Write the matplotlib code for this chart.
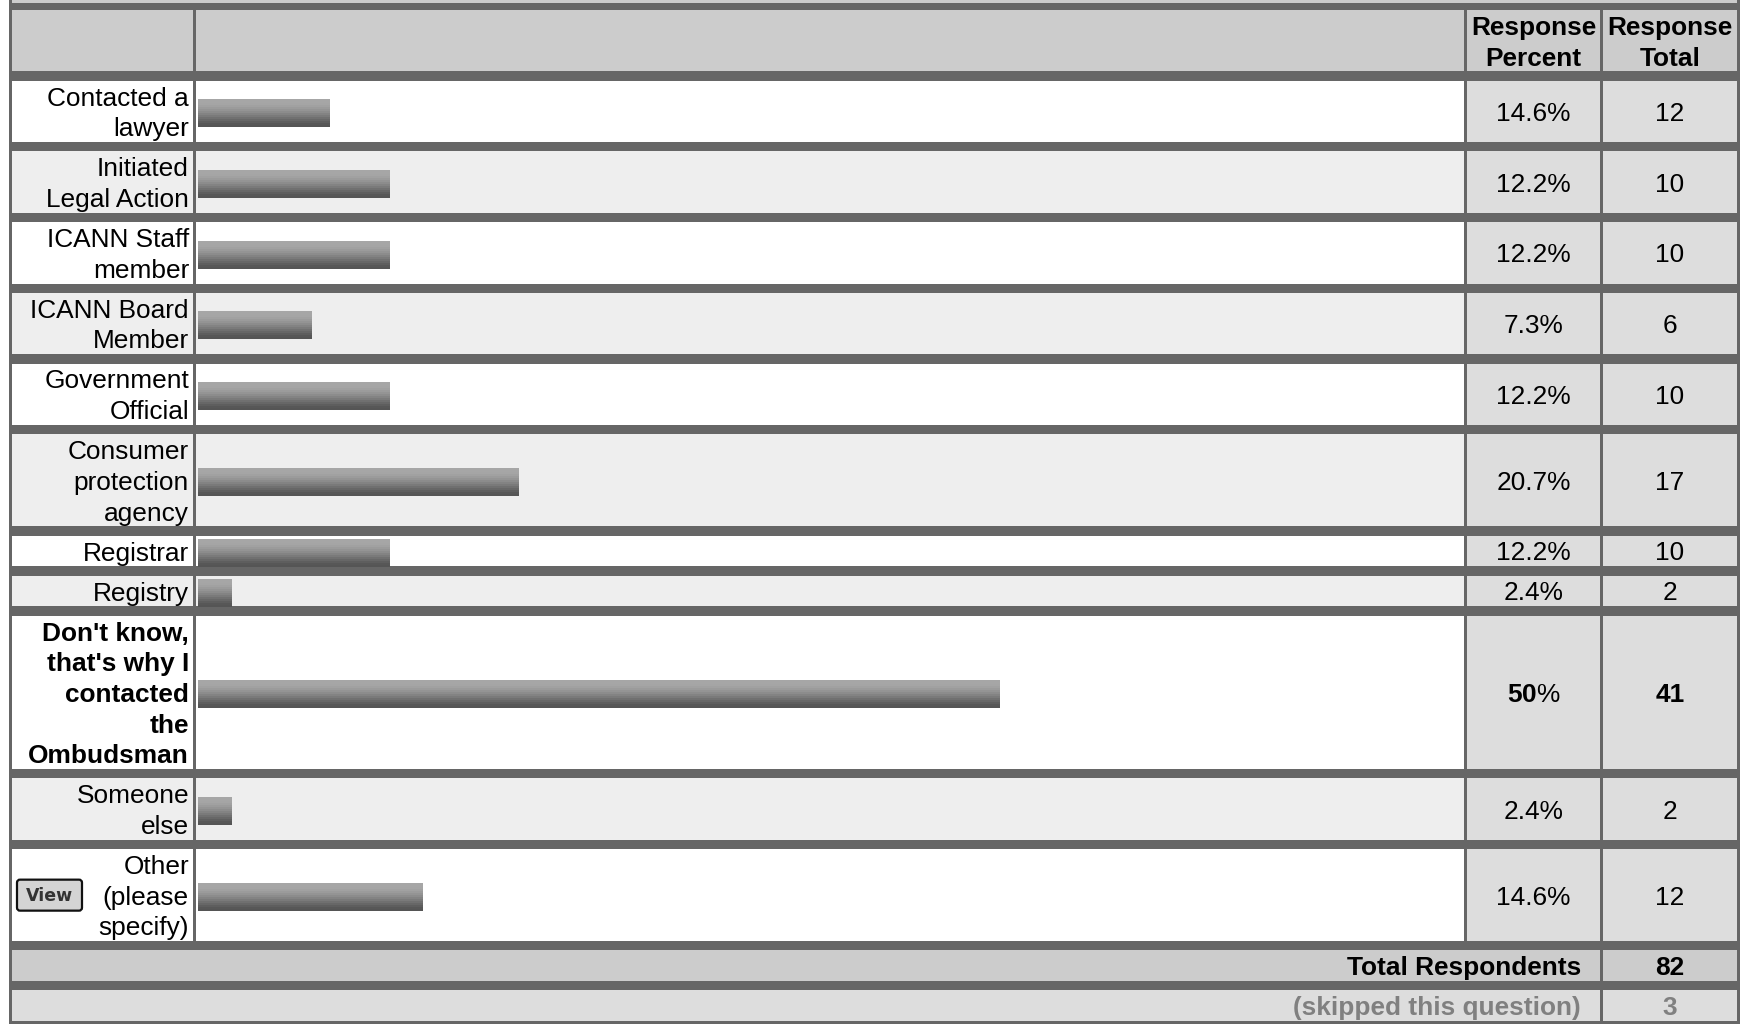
import matplotlib
matplotlib.use("Agg")
import matplotlib.pyplot as plt
from matplotlib.patches import Rectangle, FancyBboxPatch

plt.rcParams['font.family'] = ['Liberation Sans', 'DejaVu Sans']
plt.rcParams['mathtext.fontset'] = 'custom'
plt.rcParams['mathtext.rm'] = 'Liberation Sans'
plt.rcParams['mathtext.bf'] = 'Liberation Sans:bold'

# Survey data
labels = ["Contacted a\nlawyer", "Initiated\nLegal Action", "ICANN Staff\nmember",
          "ICANN Board\nMember", "Government\nOfficial", "Consumer\nprotection\nagency",
          "Registrar", "Registry",
          "Don't know,\nthat's why I\ncontacted\nthe\nOmbudsman",
          "Someone\nelse", "Other\n(please\nspecify)"]
percents = [14.6, 12.2, 12.2, 7.3, 12.2, 20.7, 12.2, 2.4, 50, 2.4, 14.6]
totals = [12, 10, 10, 6, 10, 17, 10, 2, 41, 2, 12]
# bar lengths as drawn in the picture (percent scale)
bar_drawn = [8.2, 12.0, 12.0, 7.1, 12.0, 20.0, 12.0, 2.1, 50, 2.1, 14.0]
bold_row = 8
total_respondents = 82
skipped = 3

W, H = 1747, 1024
fig = plt.figure(figsize=(W / 100, H / 100), dpi=100)
ax = fig.add_axes([0, 0, 1, 1])
ax.set_xlim(0, W)
ax.set_ylim(H, 0)
ax.axis('off')

FS = 18.9
LINE = 30.7
GAP = 9.3
BORDER = '#666666'

# column edges
x_lab = (12, 193)
x_bar = (196, 1464)
x_pct = (1467, 1600)
x_tot = (1603, 1737)

ax.add_patch(Rectangle((9, 0), 1740 - 9, 1024, color=BORDER, lw=0))
ax.add_patch(Rectangle((12, 0), 1737 - 12, 3, color='#cccccc', lw=0))


def cell(x, y0, y1, color):
    ax.add_patch(Rectangle((x[0], y0), x[1] - x[0], y1 - y0, color=color, lw=0))


def lines_right(txt, xr, top, **kw):
    for i, ln in enumerate(txt.split("\n")):
        ax.text(xr, top + 25 + i * LINE, ln, ha='right', va='baseline', fontsize=FS, **kw)


# header
top = 10
bot = top + 2 * LINE
for xc in (x_lab, x_bar, x_pct, x_tot):
    cell(xc, top, bot, '#cccccc')
for xc, second in ((x_pct, "Percent"), (x_tot, "Total")):
    cx = (xc[0] + xc[1]) / 2
    ax.text(cx, top + 25, "Response", ha='center', va='baseline', fontsize=FS, fontweight='bold')
    ax.text(cx, top + 25 + LINE, second, ha='center', va='baseline', fontsize=FS, fontweight='bold')
y = bot + GAP

row_centers = []
for i, lab in enumerate(labels):
    n = lab.count("\n") + 1
    y0, y1 = y, y + n * LINE
    bg = '#ffffff' if i % 2 == 0 else '#eeeeee'
    cell(x_lab, y0, y1, bg)
    cell(x_bar, y0, y1, bg)
    cell(x_pct, y0, y1, '#dddddd')
    cell(x_tot, y0, y1, '#dddddd')
    w = 'bold' if i == bold_row else 'normal'
    lines_right(lab, 189, y0, fontweight=w, color='black')
    yc = (y0 + y1) / 2
    row_centers.append(yc)
    if i == bold_row:
        ptxt = r"$\mathbf{%g}$%%" % percents[i]
    else:
        ptxt = "%g%%" % percents[i]
    ax.text(sum(x_pct) / 2, yc + 9.5, ptxt, ha='center', va='baseline', fontsize=FS)
    ax.text(sum(x_tot) / 2, yc + 9.5, str(totals[i]), ha='center', va='baseline',
            fontsize=FS, fontweight=w)
    y = y1 + GAP

# View button on the "Other" row
yc = row_centers[-1]
ax.add_patch(FancyBboxPatch((17, yc - 15.5), 65, 31, boxstyle="round,pad=0,rounding_size=3",
                            fc='#d4d4d4', ec='#111111', lw=1.6))
ax.text(49.5, yc + 0.5, "View", ha='center', va='center', fontsize=12.5,
        fontweight='bold', color='#333333', family='DejaVu Sans')

# total respondents row
y0, y1 = y, y + LINE
ax.add_patch(Rectangle((12, y0), 1600 - 12, y1 - y0, color='#cccccc', lw=0))
cell(x_tot, y0, y1, '#cccccc')
ax.text(1581, y0 + 25, "Total Respondents", ha='right', va='baseline', fontsize=FS, fontweight='bold')
ax.text(sum(x_tot) / 2, y0 + 25, str(total_respondents), ha='center', va='baseline',
        fontsize=FS, fontweight='bold')
y = y1 + GAP

# skipped row
y0, y1 = y, y + LINE
ax.add_patch(Rectangle((12, y0), 1600 - 12, y1 - y0, color='#dddddd', lw=0))
cell(x_tot, y0, y1, '#dddddd')
ax.text(1581, y0 + 25, "(skipped this question)", ha='right', va='baseline', fontsize=FS,
        fontweight='bold', color='#808080')
ax.text(sum(x_tot) / 2, y0 + 25, str(skipped), ha='center', va='baseline', fontsize=FS,
        fontweight='bold', color='#808080')

# bars in their own axes (x in percent)
px_per_pct = 802 / 50
bx0 = 198
axb = fig.add_axes([bx0 / W, 0, (x_bar[1] - bx0) / W, 1])
axb.set_xlim(0, (x_bar[1] - bx0) / px_per_pct)
axb.set_ylim(H, 0)
axb.axis('off')
axb.patch.set_alpha(0)

bands = ['#a6a6a6', '#a6a6a6', '#a5a5a5', '#a1a1a1', '#9b9b9b', '#949494', '#8c8c8c',
         '#838383', '#7a7a7a', '#707070', '#676767', '#5e5e5e', '#575757', '#555555']
bar_h = 28
bh = bar_h / len(bands)
for yc, v in zip(row_centers, bar_drawn):
    ytop = yc + 1.7 - bar_h / 2
    for k, c in enumerate(bands):
        axb.barh(ytop + (k + 0.5) * bh, v, height=bh, left=0, color=c, lw=0)

fig.savefig("out.png", dpi=100)
